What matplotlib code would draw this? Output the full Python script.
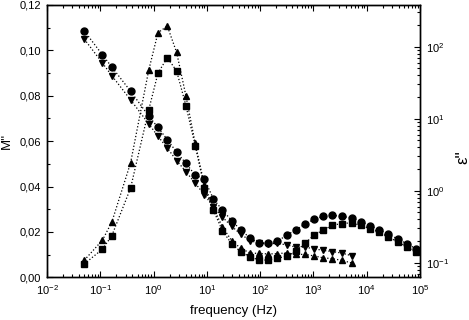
import matplotlib
matplotlib.use('Agg')
import matplotlib.pyplot as plt
from matplotlib.ticker import FuncFormatter, MultipleLocator, LogLocator, NullFormatter

plt.rcParams['font.family'] = ['Liberation Sans', 'DejaVu Sans']
plt.rcParams['mathtext.fontset'] = 'custom'
plt.rcParams['mathtext.rm'] = 'Liberation Sans'
plt.rcParams['mathtext.it'] = 'Liberation Sans:italic'
plt.rcParams['mathtext.bf'] = 'Liberation Sans:bold'

# frequency (Hz)
freq = [0.05, 0.11, 0.165, 0.37, 0.81, 1.21, 1.81, 2.71, 4.05, 6.05, 9.0, 13.3,
        19.6, 29.2, 43.6, 65, 95, 142, 211, 314, 470, 693, 1035, 1528, 2254,
        3383, 5212, 7690, 11490, 16940, 25300, 38000, 56100, 83800]

# M'' (left axis)
m_square = [0.0059, 0.0124, 0.0184, 0.0393, 0.0737, 0.0900, 0.0968, 0.0909,
            0.0756, 0.0580, 0.0395, 0.0295, 0.0205, 0.0148, 0.0112, 0.0090,
            0.0076, 0.0076, 0.0085, 0.0092, 0.0115, 0.0149, 0.0187, 0.0208,
            0.0229, 0.0237, 0.0240, 0.0229, 0.0215, 0.0200, 0.0178, 0.0156,
            0.0134, 0.0112]
m_triangle = [0.0075, 0.0164, 0.0244, 0.0504, 0.0912, 0.1078, 0.1107, 0.0991,
              0.0799, 0.0590, 0.0405, 0.0305, 0.0222, 0.0162, 0.0127, 0.0107,
              0.0105, 0.0103, 0.0104, 0.0108, 0.0101, 0.0101, 0.0094, 0.0086,
              0.0082, 0.0075, 0.0063]

# epsilon'' (right axis)
eps_circle = [166, 76.9, 52.0, 24.1, 10.9, 7.56, 5.11, 3.43, 2.39, 1.65, 1.44,
              0.766, 0.537, 0.385, 0.283, 0.220, 0.189, 0.186, 0.199, 0.240,
              0.288, 0.342, 0.402, 0.441, 0.454, 0.441, 0.419, 0.373, 0.325,
              0.288, 0.247, 0.215, 0.184, 0.156]
eps_down = [127.7, 59.2, 39.5, 18.3, 8.49, 5.70, 3.91, 2.62, 1.84, 1.27, 0.879,
            0.594, 0.429, 0.321, 0.247, 0.203, 0.186, 0.184, 0.185, 0.177,
            0.164, 0.164, 0.156, 0.148, 0.143, 0.136, 0.125]

fig = plt.figure(figsize=(4.69, 3.2), dpi=100)
ax = fig.add_axes([47/469, 1-277.3/320, 373/469, 272.3/320])
ax2 = ax.twinx()

style = dict(color='black', linestyle=':', linewidth=0.9, markersize=5)
ax.plot(freq[:len(m_triangle)], m_triangle, marker='^', **style)
ax.plot(freq, m_square, marker='s', **dict(style, markersize=4.5))
ax2.plot(freq, eps_circle, marker='o', **style)
ax2.plot(freq[:len(eps_down)], eps_down, marker='v', **style)

ax.set_xscale('log')
ax.set_xlim(1e-2, 1e5)
ax.set_ylim(0, 0.12)
ax.yaxis.set_major_locator(MultipleLocator(0.02))
ax.yaxis.set_minor_locator(MultipleLocator(0.01))
ax.yaxis.set_major_formatter(FuncFormatter(lambda v, p: f"{v:.2f}".replace('.', ',')))
ax.xaxis.set_major_locator(LogLocator(base=10, numticks=20))
ax.xaxis.set_minor_locator(LogLocator(base=10, subs=range(2, 10), numticks=20))
ax.xaxis.set_minor_formatter(NullFormatter())

ax2.set_yscale('log')
ax2.set_ylim(10**-1.203, 10**2.579)
ax2.yaxis.set_minor_locator(LogLocator(base=10, subs=range(2, 10), numticks=20))
ax2.yaxis.set_minor_formatter(NullFormatter())

for a in (ax, ax2):
    for s in a.spines.values():
        s.set_linewidth(1.0)
ax.tick_params(which='both', direction='in', top=True, right=False, labelsize=8, width=0.8)
ax.tick_params(which='major', length=4, pad=4)
ax.tick_params(which='minor', length=2.5)
ax2.tick_params(which='both', direction='in', labelsize=8, width=0.8)
ax2.tick_params(which='major', length=4, pad=4)
ax2.tick_params(which='minor', length=2.5)

ax.set_xlabel('frequency (Hz)', fontsize=9.5)
ax.xaxis.set_label_coords(0.5, -(305-277.3)/272.3)
ax.set_ylabel("M''", fontsize=9.5)
ax.yaxis.set_label_coords(-(47-13)/373, 0.5)
ax2.set_ylabel("ε''", fontsize=12)
ax2.yaxis.set_label_coords((455-47)/373, 0.44)

fig.savefig('out.png', dpi=100)
